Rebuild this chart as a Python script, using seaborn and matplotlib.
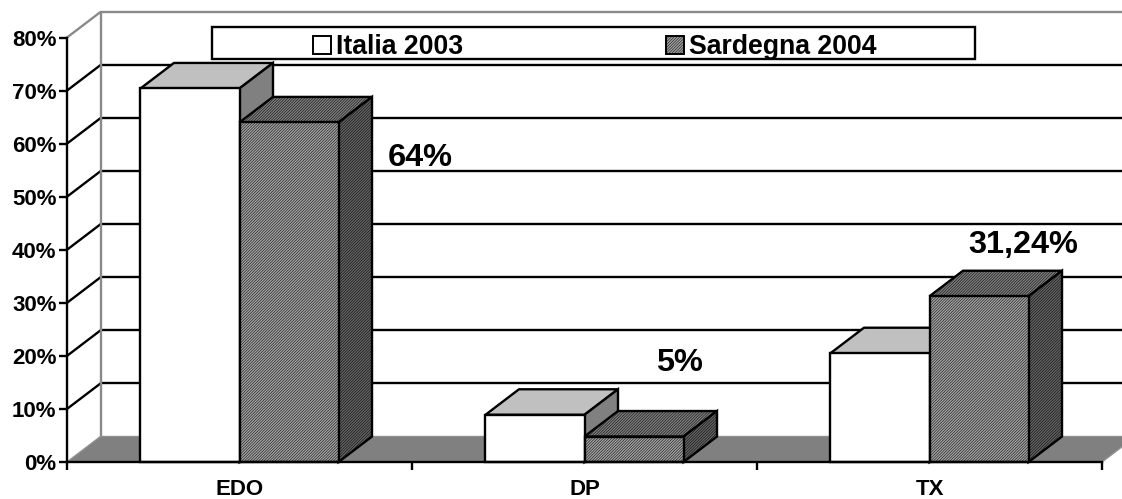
"""Barre pseudo-3D: Italia 2003 / Sardegna 2004 (EDO, DP, TX)."""
import matplotlib
matplotlib.use('Agg')
import matplotlib.pyplot as plt
from matplotlib.patches import Polygon, Rectangle
import pandas as pd
import seaborn as sns

CATEGORIE = ['EDO', 'DP', 'TX']
ITALIA = [70.4, 8.9, 20.5]
SARDEGNA = [64.0, 4.8, 31.24]
ETICHETTE = ['64%', '5%', '31,24%']
SERIE = ['Italia 2003', 'Sardegna 2004']
Y_TICKS = [0, 10, 20, 30, 40, 50, 60, 70, 80]

W, H = 1122, 499
AX_L, AX_R, AX_T, AX_B = 67, 1102, 37.5, 462
PX_X = (AX_R - AX_L) / 3
PX_Y = (AX_B - AX_T) / 80
DX = 33.5 / PX_X
DY = 25.5 / PX_Y
# spostamento (pixel) delle etichette rispetto alla cima della barra Sardegna
OFFSET_ETICHETTE = [(131, -36), (45, 74), (44, 51)]
LW = 1.7
TRAMA = '/' * 12

sns.set_theme(style='white')
plt.rcParams['font.family'] = ['Liberation Sans', 'DejaVu Sans']
plt.rcParams['hatch.linewidth'] = 0.35

df = pd.DataFrame({
    'categoria': CATEGORIE * 2,
    'valore': ITALIA + SARDEGNA,
    'serie': [SERIE[0]] * 3 + [SERIE[1]] * 3,
})

fig = plt.figure(figsize=(W / 100, H / 100), dpi=100)
ax = fig.add_axes([AX_L / W, 1 - AX_B / H, (AX_R - AX_L) / W, (AX_B - AX_T) / H])
ax.patch.set_visible(False)

sns.barplot(data=df, x='categoria', y='valore', hue='serie',
            palette=['white', '#a0a0a0'], saturation=1, width=0.574, gap=0,
            edgecolor='black', linewidth=LW, ax=ax)
ax.set_xlim(-0.5, 2.5)
ax.set_ylim(0, 80)
ax.set_xlabel('')
ax.set_ylabel('')

# pareti e pavimento
GRIGIO = '#8a8a8a'
x_fine = 2.5 + DX
for v in Y_TICKS[1:-1]:
    ax.plot([-0.5, -0.5 + DX], [v, v + DY], color='black', lw=LW, clip_on=False, zorder=1)
    ax.plot([-0.5 + DX, x_fine], [v + DY, v + DY], color='black', lw=LW, clip_on=False, zorder=1)
ax.plot([-0.5, -0.5 + DX, x_fine], [80, 80 + DY, 80 + DY], color=GRIGIO, lw=LW, clip_on=False, zorder=1)
ax.plot([-0.5 + DX, -0.5 + DX], [DY, 80 + DY], color=GRIGIO, lw=LW, clip_on=False, zorder=1)
ax.add_patch(Polygon([(-0.5, 0), (-0.5 + DX, DY), (x_fine, DY), (2.5, 0)], closed=True,
                     facecolor='#808080', edgecolor='#909090', lw=1, clip_on=False, zorder=2))

# facce laterali e superiori ricavate dalle barre
STILI = [
    {'top': '#c0c0c0', 'side': '#808080', 'hatch': None},
    {'top': '#7c7c7c', 'side': '#626262', 'hatch': TRAMA},
]
for i_serie, cont in enumerate(ax.containers):
    stile = STILI[i_serie]
    for bar in cont:
        x0, x1, h = bar.get_x(), bar.get_x() + bar.get_width(), bar.get_height()
        base = 10 + 2 * i_serie
        bar.set_zorder(base + 1)
        bar.set_clip_on(False)
        if stile['hatch']:
            bar.set_hatch(stile['hatch'])
        top = [(x0, h), (x1, h), (x1 + DX, h + DY), (x0 + DX, h + DY)]
        side = [(x1, 0), (x1, h), (x1 + DX, h + DY), (x1 + DX, DY)]
        for pts, col in ((top, stile['top']), (side, stile['side'])):
            ax.add_patch(Polygon(pts, closed=True, facecolor=col, edgecolor='black',
                                 lw=LW, hatch=stile['hatch'], clip_on=False, zorder=base))

# assi
sns.despine(ax=ax, top=True, right=True)
for lato in ('left', 'bottom'):
    ax.spines[lato].set_linewidth(LW)
    ax.spines[lato].set_color('black')
    ax.spines[lato].set_zorder(20)
ax.set_yticks(Y_TICKS)
ax.set_yticklabels([f'{v}%' for v in Y_TICKS], fontsize=16, fontweight='bold', color='black')
ax.tick_params(axis='y', which='major', left=True, length=6, width=LW, color='black', pad=1.5)
ax.set_xticks([0, 1, 2])
ax.set_xticklabels(CATEGORIE, fontsize=16, fontweight='bold', color='black')
ax.set_xticks([-0.5, 0.5, 1.5, 2.5], minor=True)
ax.tick_params(axis='x', which='major', bottom=False, length=0, pad=12.5)
ax.tick_params(axis='x', which='minor', bottom=True, length=6, width=LW, color='black')

# etichette dati
for bar, testo, off in zip(ax.containers[1], ETICHETTE, OFFSET_ETICHETTE):
    ax.annotate(testo, (bar.get_x() + bar.get_width() / 2, bar.get_height()),
                xytext=(off[0] * 0.72, off[1] * 0.72), textcoords='offset points',
                ha='center', va='center', fontsize=23.4, fontweight='bold',
                color='black', annotation_clip=False, zorder=30)

# legenda
ax.add_patch(Rectangle((212 / W, 1 - 59 / H), (975 - 212) / W, 32 / H,
                       transform=fig.transFigure, facecolor='white',
                       edgecolor='black', lw=LW, clip_on=False, zorder=5))
handles, labels = ax.get_legend_handles_labels()
handles[1].set_hatch(TRAMA)
for hnd in handles:
    hnd.set_edgecolor('black')
    hnd.set_linewidth(1.4)
ax.legend(handles, labels, loc='center', ncol=2, frameon=False,
          bbox_to_anchor=(594.5 / W, 1 - 47.5 / H), bbox_transform=fig.transFigure,
          prop={'family': 'Liberation Sans', 'weight': 'bold', 'size': 19.2},
          labelcolor='black', handlelength=0.68, handleheight=0.68,
          handletextpad=0.18, columnspacing=7.6, borderpad=0, borderaxespad=0).set_zorder(40)

fig.savefig('out.png', dpi=100, facecolor='white')
